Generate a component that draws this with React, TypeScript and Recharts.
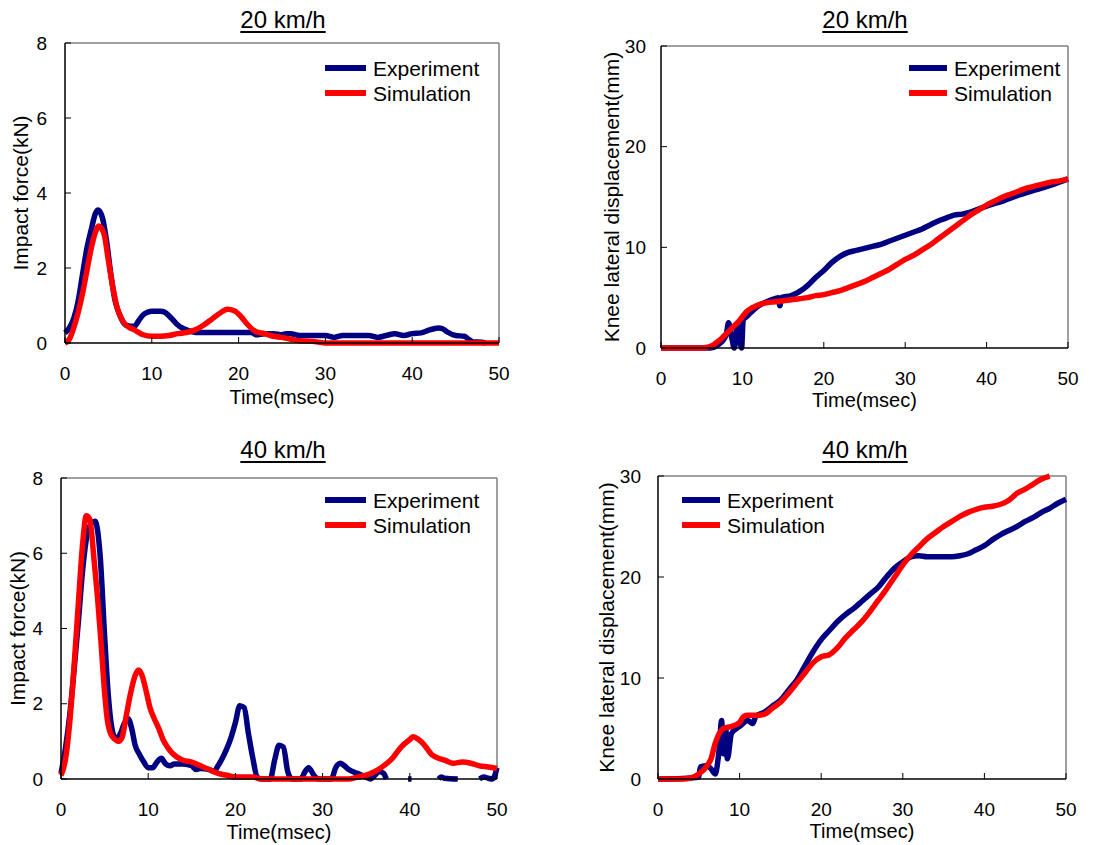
import React from 'react';
import { LineChart, Line, XAxis, YAxis, ReferenceLine, Legend } from 'recharts';

const FONT = 'Arial, "Liberation Sans", Helvetica, sans-serif';
const BLUE = '#000080';
const RED = '#ff0000';

const timeTicks = [0, 10, 20, 30, 40, 50];
const forceTicks = [0, 2, 4, 6, 8];
const dispTicks = [0, 10, 20, 30];

// 20 km/h - impact force
const f20ExpT = [0, 0.5, 1, 1.5, 2, 2.5, 3, 3.5, 3.8, 4.3, 4.8, 5.3, 5.8, 6.3, 7, 7.5, 8, 8.5, 9, 9.5, 10, 11, 11.5, 12, 12.5, 13, 13.5, 14, 15, 16, 18, 20, 21.5, 22, 23, 24, 25, 25.5, 26, 27, 28, 30, 31, 32, 34, 35, 36, 37, 38, 39, 40, 41, 42, 42.5, 43, 43.5, 44, 45, 46, 46.5, 47, 48, 48.5];
const f20ExpV = [0.27, 0.4, 0.65, 1.1, 1.8, 2.5, 3.0, 3.45, 3.55, 3.35, 2.7, 1.8, 1.1, 0.75, 0.48, 0.45, 0.45, 0.6, 0.75, 0.82, 0.85, 0.85, 0.82, 0.72, 0.6, 0.48, 0.4, 0.35, 0.28, 0.28, 0.28, 0.28, 0.28, 0.22, 0.25, 0.25, 0.22, 0.25, 0.25, 0.2, 0.2, 0.2, 0.15, 0.2, 0.2, 0.2, 0.15, 0.2, 0.25, 0.2, 0.25, 0.27, 0.35, 0.38, 0.4, 0.38, 0.3, 0.2, 0.18, 0.1, 0.03, 0.02, 0];
const f20SimT = [0, 0.5, 1, 1.5, 2, 2.5, 3, 3.5, 3.9, 4.5, 5, 5.5, 6, 6.5, 7, 7.5, 8, 8.5, 9, 10, 11, 12, 13, 14, 15, 16, 17, 18, 18.7, 19.5, 20.3, 21, 22, 23, 24, 25, 26, 27, 28, 29, 30, 40, 50];
const f20SimV = [0, 0.1, 0.4, 0.8, 1.3, 1.9, 2.5, 2.95, 3.12, 2.9, 2.2, 1.5, 0.95, 0.65, 0.48, 0.4, 0.35, 0.28, 0.22, 0.18, 0.18, 0.2, 0.25, 0.28, 0.35, 0.48, 0.65, 0.82, 0.9, 0.86, 0.7, 0.5, 0.3, 0.25, 0.18, 0.15, 0.1, 0.06, 0.05, 0.03, 0, 0, 0];

// 20 km/h - knee lateral displacement
const d20ExpT = [0, 6, 7, 8, 8.3, 8.7, 9.0, 9.4, 9.9, 10.1, 10.5, 11, 12, 13, 14, 14.4, 14.6, 14.8, 16, 17, 18, 19, 20, 21, 22, 23, 24, 25, 26, 27, 28, 29, 30, 31, 32, 33, 34, 35, 36, 37, 38, 39, 40, 42, 44, 46, 48, 50];
const d20ExpV = [0, 0, 0.3, 1.3, 2.5, 1.0, 0, 2.2, 0, 2.8, 3.1, 3.5, 4.2, 4.6, 4.9, 5.0, 4.2, 5.0, 5.2, 5.6, 6.2, 7.0, 7.7, 8.5, 9.1, 9.5, 9.7, 9.9, 10.1, 10.3, 10.6, 10.9, 11.2, 11.5, 11.8, 12.2, 12.6, 12.9, 13.2, 13.3, 13.5, 13.8, 14.1, 14.6, 15.2, 15.7, 16.2, 16.8];
const d20SimT = [0, 5, 5.5, 6, 6.5, 7, 7.5, 8, 8.5, 9, 9.5, 10, 10.5, 11, 11.5, 12, 13, 14, 15, 16, 17, 18, 19, 20, 21, 22, 23, 24, 25, 26, 27, 28, 29, 30, 31, 32, 33, 34, 35, 36, 37, 38, 39, 40, 41, 42, 43, 44, 45, 46, 47, 48, 49, 50];
const d20SimV = [0, 0, 0.05, 0.15, 0.35, 0.65, 1.0, 1.4, 1.8, 2.2, 2.6, 3.1, 3.6, 3.9, 4.1, 4.3, 4.5, 4.6, 4.7, 4.8, 4.9, 5.0, 5.2, 5.3, 5.5, 5.7, 6.0, 6.3, 6.6, 7.0, 7.4, 7.8, 8.3, 8.8, 9.2, 9.7, 10.2, 10.8, 11.4, 12.0, 12.6, 13.2, 13.7, 14.2, 14.6, 15.0, 15.3, 15.6, 15.9, 16.1, 16.3, 16.5, 16.6, 16.8];

// 40 km/h - impact force
const f40ExpT = [0, 0.5, 1, 1.5, 2, 2.5, 3, 3.5, 3.9, 4.5, 5.0, 5.4, 5.8, 6.3, 6.8, 7.3, 7.7, 8.1, 8.5, 9, 9.5, 10, 10.5, 11, 11.5, 12, 12.5, 13, 14, 15, 15.5, 16, 17, 17.5, 18, 18.5, 19, 19.5, 20, 20.5, 21, 21.5, 22, 22.5, 23, 24, 24.5, 25, 25.5, 26, 26.5, 27.5, 28, 28.4, 29, 29.5, 31, 31.5, 32, 32.5, 33, 34, 35, 35.5, 36, 36.5, 37, 37.3, 38, 39.8, 40.2, 41, 43.3, 43.6, 44, 45.5, 46, 48, 48.5, 49, 49.5, 50];
const f40ExpV = [0.15, 0.8, 1.7, 2.9, 4.2, 5.6, 6.5, 6.8, 6.85, 5.9, 3.8, 2.3, 1.4, 1.05, 1.2, 1.5, 1.6, 1.35, 0.9, 0.65, 0.45, 0.3, 0.3, 0.45, 0.55, 0.4, 0.35, 0.4, 0.4, 0.35, 0.25, 0.28, 0.25, 0.2, 0.35, 0.55, 0.8, 1.1, 1.5, 1.95, 1.9, 1.2, 0.55, 0.05, 0, 0, 0.5, 0.9, 0.85, 0.2, 0, 0, 0.2, 0.3, 0.1, 0, 0, 0.3, 0.42, 0.35, 0.25, 0.15, 0.05, 0, 0.1, 0.2, 0.15, 0, null, 0, 0, null, 0, 0.05, 0.02, 0, null, 0, 0.05, 0.02, 0, 0.3];
const f40SimT = [0, 0.5, 1, 1.5, 2, 2.5, 2.9, 3.3, 3.8, 4.2, 4.6, 5.0, 5.3, 5.7, 6.2, 6.6, 7.0, 7.5, 8, 8.5, 8.9, 9.3, 9.8, 10.2, 10.7, 11.2, 11.7, 12.2, 12.7, 13.2, 14, 15, 16, 17, 18, 19, 20, 22, 23, 33, 34, 35, 36, 37, 38, 39, 40, 40.4, 41, 41.5, 42, 42.5, 43, 44, 45, 46, 47, 48, 49, 50];
const f40SimV = [0.1, 0.5, 1.5, 3.0, 4.7, 6.3, 7.0, 6.9, 5.8, 4.8, 3.6, 2.3, 1.6, 1.2, 1.05, 1.0, 1.1, 1.7, 2.3, 2.75, 2.9, 2.75, 2.3, 1.9, 1.6, 1.35, 1.05, 0.85, 0.7, 0.6, 0.5, 0.45, 0.35, 0.25, 0.15, 0.1, 0.05, 0.05, 0, 0, 0.05, 0.1, 0.2, 0.35, 0.55, 0.85, 1.05, 1.12, 1.05, 0.95, 0.8, 0.65, 0.58, 0.5, 0.42, 0.45, 0.42, 0.35, 0.32, 0.28];

// 40 km/h - knee lateral displacement
const d40ExpT = [0, 3, 4, 5, 5.2, 6, 6.5, 7, 7.5, 7.8, 8, 8.3, 8.5, 9, 10, 11, 11.6, 12, 13, 14, 15, 16, 17, 18, 19, 20, 21, 22, 23, 24, 25, 26, 27, 28, 29, 30, 31, 32, 33, 35, 36, 37, 38, 39, 40, 41, 42, 43, 44, 45, 46, 47, 48, 49, 50];
const d40ExpV = [0, 0.05, 0.1, 0.2, 1.2, 1.3, 1.0, 0.5, 3.0, 5.8, 2.5, 5.0, 2.0, 4.5, 5.2, 5.8, 5.5, 6.2, 6.6, 7.2, 7.8, 8.8, 9.8, 11.2, 12.6, 13.8, 14.7, 15.6, 16.3, 16.9, 17.6, 18.3, 19.0, 20.0, 20.9, 21.5, 22.0, 22.1, 22.0, 22.0, 22.0, 22.1, 22.3, 22.7, 23.1, 23.7, 24.2, 24.6, 25.0, 25.5, 25.9, 26.4, 26.8, 27.3, 27.7];
const d40SimT = [0, 3, 4, 5, 6, 6.5, 7, 7.5, 8, 9, 10, 10.5, 11, 12, 13, 14, 15, 16, 17, 18, 19, 20, 21, 22, 23, 24, 25, 26, 27, 28, 29, 30, 31, 32, 33, 34, 35, 36, 37, 38, 39, 40, 41, 42, 43, 44, 45, 46, 47, 48];
const d40SimV = [0, 0, 0.1, 0.5, 1.3, 2.0, 3.5, 4.5, 5.0, 5.2, 5.6, 6.2, 6.3, 6.3, 6.4, 7.0, 7.6, 8.5, 9.5, 10.5, 11.5, 12.1, 12.3, 13.0, 14.0, 14.8, 15.6, 16.6, 17.7, 18.8, 20.0, 21.2, 22.2, 23.0, 23.8, 24.4, 25.0, 25.5, 26.0, 26.4, 26.7, 26.9, 27.0, 27.2, 27.6, 28.3, 28.7, 29.2, 29.7, 30.0];

type Pt = { t: number; v: number | null };
const zip = (t: number[], v: (number | null)[]): Pt[] => t.map((x, i) => ({ t: x, v: v[i] }));

const LegendBox = ({ lineW }: { lineW: number }) => (
  <div style={{ fontFamily: FONT, fontSize: 21, lineHeight: '25px', color: '#000' }}>
    {[
      ['Experiment', BLUE],
      ['Simulation', RED],
    ].map(([name, c]) => (
      <div key={name} style={{ display: 'flex', alignItems: 'center', height: 25, whiteSpace: 'nowrap' }}>
        <span style={{ display: 'inline-block', width: lineW, height: 6, background: c, marginRight: 7 }} />
        <span>{name}</span>
      </div>
    ))}
  </div>
);

interface PanelProps {
  left: number;
  top: number;
  width: number;
  height: number;
  mTop: number;
  mRight: number;
  yw: number;
  xh: number;
  xLabelOffset: number;
  yLabelX: number;
  yMax: number;
  yTicks: number[];
  yLabel: string;
  yTickGap: number;
  title: string;
  titleX: number;
  legendX: number;
  legendY: number;
  legendLine: number;
  exp: Pt[];
  sim: Pt[];
}

function Panel(p: PanelProps) {
  const tickStyle = { fontSize: 19, fill: '#000', fontFamily: FONT };
  return (
    <div style={{ position: 'absolute', left: p.left, top: p.top, width: p.width, height: p.height }}>
      <div
        style={{
          position: 'absolute',
          left: p.titleX - 60,
          width: 120,
          top: 8,
          textAlign: 'center',
          fontFamily: FONT,
          fontSize: 24,
          lineHeight: '24px',
          textDecoration: 'underline',
          textDecorationThickness: 2,
          textUnderlineOffset: 3,
        }}
      >
        {p.title}
      </div>
      <LineChart
        width={p.width}
        height={p.height}
        margin={{ top: p.mTop, right: p.mRight, bottom: 0, left: 0 }}
        style={{ fontFamily: FONT }}
      >
        <XAxis
          type="number"
          dataKey="t"
          domain={[0, 50]}
          ticks={timeTicks}
          height={p.xh}
          tickSize={-6}
          tickMargin={30}
          tick={tickStyle}
          axisLine={{ stroke: '#000', strokeWidth: 1.5 }}
          tickLine={{ stroke: '#000' }}
          label={{
            value: 'Time(msec)',
            position: 'insideBottom',
            offset: p.xLabelOffset,
            style: { fontSize: 20, fill: '#000', fontFamily: FONT },
          }}
        />
        <YAxis
          type="number"
          dataKey="v"
          domain={[0, p.yMax]}
          ticks={p.yTicks}
          width={p.yw}
          tickSize={-6}
          tickMargin={p.yTickGap + 6}
          tick={tickStyle}
          axisLine={{ stroke: '#000', strokeWidth: 1.5 }}
          tickLine={{ stroke: '#000' }}
          label={{
            value: p.yLabel,
            angle: -90,
            position: 'insideLeft',
            offset: p.yLabelX,
            style: { fontSize: 21, fill: '#000', fontFamily: FONT, textAnchor: 'middle' },
          }}
        />
        <ReferenceLine y={p.yMax} stroke="#808080" strokeWidth={1.5} />
        <ReferenceLine x={50} stroke="#808080" strokeWidth={1.5} />
        <Legend
          layout="vertical"
          align="center"
          verticalAlign="middle"
          wrapperStyle={{ left: p.legendX, top: p.legendY - 12.5, width: 'auto' }}
          content={() => <LegendBox lineW={p.legendLine} />}
        />
        <Line
          data={p.exp}
          dataKey="v"
          type="monotone"
          stroke={BLUE}
          strokeWidth={5.5}
          dot={false}
          strokeLinejoin="round"
          isAnimationActive={false}
        />
        <Line
          data={p.sim}
          dataKey="v"
          type="monotone"
          stroke={RED}
          strokeWidth={5.5}
          dot={false}
          strokeLinejoin="round"
          isAnimationActive={false}
        />
      </LineChart>
    </div>
  );
}

export default function App() {
  return (
    <div style={{ position: 'absolute', left: 0, top: 0, width: 1118, height: 845, background: '#fff' }}>
      <Panel
        left={0} top={0} width={520} height={420}
        mTop={43} mRight={21} yw={65} xh={77} xLabelOffset={16} yLabelX={21}
        yMax={8} yTicks={forceTicks} yLabel="Impact force(kN)" yTickGap={18}
        title="20 km/h" titleX={283}
        legendX={325} legendY={68} legendLine={41}
        exp={zip(f20ExpT, f20ExpV)} sim={zip(f20SimT, f20SimV)}
      />
      <Panel
        left={560} top={0} width={540} height={420}
        mTop={46} mRight={32} yw={101} xh={72} xLabelOffset={13} yLabelX={52}
        yMax={30} yTicks={dispTicks} yLabel="Knee lateral displacement(mm)" yTickGap={15}
        title="20 km/h" titleX={305}
        legendX={349} legendY={68} legendLine={38}
        exp={zip(d20ExpT, d20ExpV)} sim={zip(d20SimT, d20SimV)}
      />
      <Panel
        left={0} top={430} width={520} height={415}
        mTop={48} mRight={23} yw={61} xh={66} xLabelOffset={6} yLabelX={18}
        yMax={8} yTicks={forceTicks} yLabel="Impact force(kN)" yTickGap={18}
        title="40 km/h" titleX={283}
        legendX={325} legendY={70} legendLine={41}
        exp={zip(f40ExpT, f40ExpV)} sim={zip(f40SimT, f40SimV)}
      />
      <Panel
        left={560} top={430} width={540} height={415}
        mTop={46} mRight={34} yw={98} xh={66} xLabelOffset={7} yLabelX={47}
        yMax={30} yTicks={dispTicks} yLabel="Knee lateral displacement(mm)" yTickGap={17}
        title="40 km/h" titleX={305}
        legendX={122} legendY={70} legendLine={38}
        exp={zip(d40ExpT, d40ExpV)} sim={zip(d40SimT, d40SimV)}
      />
    </div>
  );
}
